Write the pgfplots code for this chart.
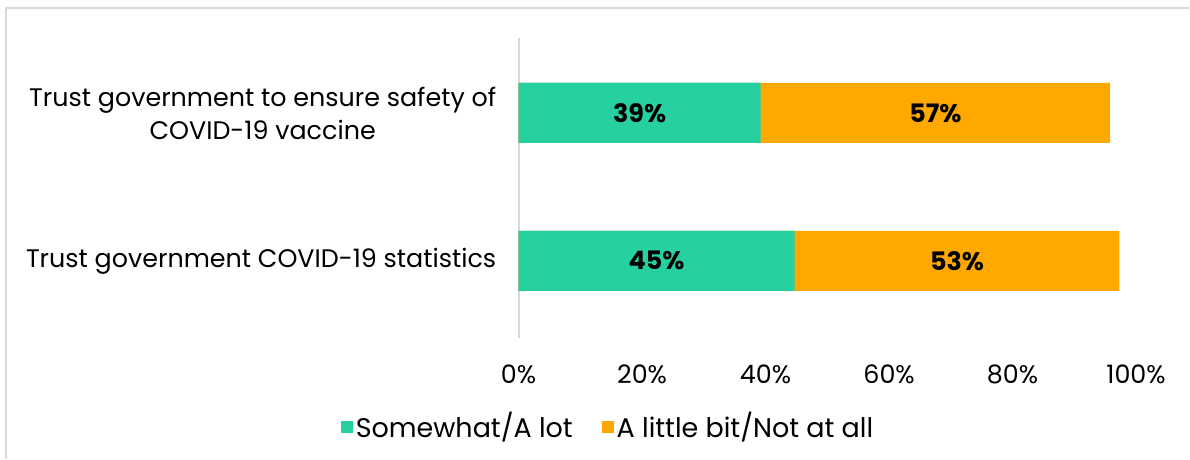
\documentclass[border=0pt]{standalone}
\usepackage{fontspec}
\setmainfont{Poppins}
\usepackage{pgfplots}
\pgfplotsset{compat=1.18}
\definecolor{tealc}{HTML}{26D0A0}
\definecolor{orng}{HTML}{FFA800}
\definecolor{gline}{HTML}{D9D9D9}
\begin{document}
\begin{tikzpicture}[x=1pt,y=1pt]
\path (0,0) rectangle (595,229.5);
\draw[gline, line width=1pt] (3.25,0) -- (3.25,225.5) -- (595,225.5);
\begin{axis}[
  at={(259.5pt,60.5pt)}, anchor=south west,
  width=309pt, height=150pt, scale only axis,
  xmin=0, xmax=100, ymin=-0.52, ymax=1.507,
  axis lines*=left,
  x axis line style={draw=none},
  y axis line style={draw=gline, line width=1pt},
  major tick length=0pt,
  xtick={0,20,40,60,80,100},
  xticklabels={0\%,20\%,40\%,60\%,80\%,100\%},
  ytick={0,1},
  yticklabels={Trust government COVID-19 statistics, {Trust government to ensure safety of\\COVID-19 vaccine}},
  yticklabel style={align=center, inner sep=0pt, xshift=-11pt, font=\fontsize{12.7}{16.5}\selectfont},
  xticklabel style={anchor=center, yshift=-18.5pt, font=\fontsize{12.7}{15}\selectfont},
  legend style={at={(rel axis cs:0.1456,-0.297)}, anchor=center, draw=none, fill=none,
    legend columns=2, font=\fontsize{13.5}{15}\selectfont, nodes={inner sep=1.5pt},
    /tikz/every even column/.append style={column sep=13pt}},
  legend image code/.code={\fill[#1] (0pt,-3pt) rectangle (6pt,3pt);},
]
% stacked bars: orange drawn as cumulative total behind the teal part
\addplot[xbar, bar width=30pt, bar shift=0pt, fill=tealc, draw=none] coordinates {(44.7,0) (39.2,1)};
\addplot[xbar, bar width=30pt, bar shift=0pt, fill=orng, draw=none] coordinates {(97.3,0) (95.8,1)};
\addplot[xbar, bar width=30pt, bar shift=0pt, fill=tealc, draw=none, forget plot] coordinates {(44.7,0) (39.2,1)};
\addplot[draw=none, mark=none, forget plot, nodes near coords, point meta=explicit symbolic,
  every node near coord/.style={anchor=center, font=\fontsize{12.7}{15}\selectfont\bfseries, text=black}]
  coordinates {(22.35,0) [45\%] (19.6,1) [39\%] (71.0,0) [53\%] (67.5,1) [57\%]};
\legend{Somewhat/A lot, A little bit/Not at all}
\end{axis}
\end{tikzpicture}
\end{document}
